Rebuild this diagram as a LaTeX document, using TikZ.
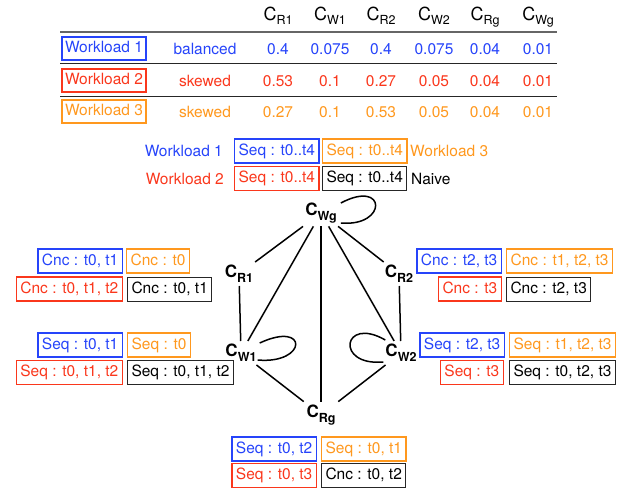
\documentclass[tikz,border=0pt]{standalone}
\usepackage{fontspec}
\setmainfont{TeX Gyre Heros}
\usetikzlibrary{calc}
\definecolor{wlblue}{RGB}{38,68,250}
\definecolor{wlred}{RGB}{250,55,28}
\definecolor{wlorange}{RGB}{255,152,30}
\newcommand{\hC}[1]{C\raisebox{-4pt}{\fontsize{12.5}{12}\selectfont #1}}
\newcommand{\gC}[1]{\textbf{C}\raisebox{-5pt}{\fontsize{12.5}{12}\selectfont\bfseries #1}}
\tikzset{
	cell/.style={inner sep=0pt, font=\fontsize{15.5}{18}\selectfont, text height=11pt, text depth=0pt},
	box/.style={draw, line width=1.3pt, minimum height=24pt, inner xsep=4pt, inner ysep=0pt, font=\fontsize{15.5}{18}\selectfont, text height=11pt, text depth=3pt},
	bluebox/.style={box, draw=wlblue, text=wlblue},
	redbox/.style={box, draw=wlred, text=wlred},
	orangebox/.style={box, draw=wlorange, text=wlorange},
	blackbox/.style={box, draw=black!85, line width=1pt, text=black},
	wlbox/.style={draw, line width=2.3pt, minimum width=84pt, minimum height=23pt, inner sep=0pt, font=\fontsize{15.5}{18}\selectfont, text height=11pt, text depth=3pt},
	gnode/.style={inner sep=3pt, font=\fontsize{17}{18}\selectfont\bfseries},
	edge/.style={line width=1.5pt, black}
}

\begin{document}
\begin{tikzpicture}[x=1pt, y=-1pt]
			%%%%% START %%%%%
			\useasboundingbox (0,0) rectangle (619,490);
			
			% table header
			\node[font=\fontsize{18}{18}\selectfont, inner sep=0pt, anchor=base] (hr1) at (278,20) {\hC{R1}};
			\node[font=\fontsize{18}{18}\selectfont, inner sep=0pt, anchor=base] (hw1) at (330,20) {\hC{W1}};
			\node[font=\fontsize{18}{18}\selectfont, inner sep=0pt, anchor=base] (hr2) at (381,20) {\hC{R2}};
			\node[font=\fontsize{18}{18}\selectfont, inner sep=0pt, anchor=base] (hw2) at (434,20) {\hC{W2}};
			\node[font=\fontsize{18}{18}\selectfont, inner sep=0pt, anchor=base] (hrg) at (485,20) {\hC{Rg}};
			\node[font=\fontsize{18}{18}\selectfont, inner sep=0pt, anchor=base] (hwg) at (538,20) {\hC{Wg}};
			
			\draw[line width=1.6pt, black!60] (60,32) -- (557,32);
			\draw[line width=1pt, black!85] (60,63.5) -- (557,63.5);
			\draw[line width=1pt, black!85] (60,96.5) -- (557,96.5);
			
			% workload 1
			\node[wlbox, draw=wlblue, text=wlblue] (wl1) at (104,48.5) {Workload 1};
			\node[cell, wlblue] (wl1type) at (205,48.5) {balanced};
			\node[cell, wlblue] (wl1r1) at (278,48.5) {0.4};
			\node[cell, wlblue] (wl1w1) at (330,48.5) {0.075};
			\node[cell, wlblue] (wl1r2) at (381,48.5) {0.4};
			\node[cell, wlblue] (wl1w2) at (434,48.5) {0.075};
			\node[cell, wlblue] (wl1rg) at (485,48.5) {0.04};
			\node[cell, wlblue] (wl1wg) at (538,48.5) {0.01};
			
			% workload 2
			\node[wlbox, draw=wlred, text=wlred] (wl2) at (104,80.5) {Workload 2};
			\node[cell, wlred] (wl2type) at (205,80.5) {skewed};
			\node[cell, wlred] (wl2r1) at (278,80.5) {0.53};
			\node[cell, wlred] (wl2w1) at (330,80.5) {0.1};
			\node[cell, wlred] (wl2r2) at (381,80.5) {0.27};
			\node[cell, wlred] (wl2w2) at (434,80.5) {0.05};
			\node[cell, wlred] (wl2rg) at (485,80.5) {0.04};
			\node[cell, wlred] (wl2wg) at (538,80.5) {0.01};
			
			% workload 3
			\node[wlbox, draw=wlorange, text=wlorange] (wl3) at (104,111.5) {Workload 3};
			\node[cell, wlorange] (wl3type) at (205,111.5) {skewed};
			\node[cell, wlorange] (wl3r1) at (278,111.5) {0.27};
			\node[cell, wlorange] (wl3w1) at (330,111.5) {0.1};
			\node[cell, wlorange] (wl3r2) at (381,111.5) {0.53};
			\node[cell, wlorange] (wl3w2) at (434,111.5) {0.05};
			\node[cell, wlorange] (wl3rg) at (485,111.5) {0.04};
			\node[cell, wlorange] (wl3wg) at (538,111.5) {0.01};
			
			% legend
			\node[cell, wlblue, anchor=east] (lg1) at (223,151) {Workload 1};
			\node[bluebox, anchor=west] (lgb) at (234,151) {Seq : t0..t4};
			\node[orangebox, anchor=west] (lgo) at (322,151) {Seq : t0..t4};
			\node[cell, wlorange, anchor=west] (lg3) at (410,151) {Workload 3};
			\node[cell, wlred, anchor=east] (lg2) at (224,178.5) {Workload 2};
			\node[redbox, anchor=west] (lgr) at (234,178.5) {Seq : t0..t4};
			\node[blackbox, anchor=west] (lgk) at (322,178.5) {Seq : t0..t4};
			\node[cell, anchor=west] (lgn) at (411,178.5) {Naive};
			
			% graph
			\node[gnode] (cwg) at (321,213) {\gC{Wg}};
			\node[gnode] (cr1) at (239,274) {\gC{R1}};
			\node[gnode] (cr2) at (399,274) {\gC{R2}};
			\node[gnode] (cw1) at (241,353) {\gC{W1}};
			\node[gnode] (cw2) at (401,353) {\gC{W2}};
			\node[gnode] (crg) at (321,415) {\gC{Rg}};
			
			\draw[edge] (cwg) -- (cr1);
			\draw[edge] (cwg) -- (cw1);
			\draw[edge] (cwg) -- (crg);
			\draw[edge] (cwg) -- (cw2);
			\draw[edge] (cwg) -- (cr2);
			\draw[edge] (cr1) -- (cw1);
			\draw[edge] (cr2) -- (cw2);
			\draw[edge] (cw1) -- (crg);
			\draw[edge] (cw2) -- (crg);
			\draw[edge] ($(cwg.east)+(1,-10)$) .. controls +(28:52pt) and +(-5:47pt) .. ($(cwg.east)+(1,10)$);
			\draw[edge] ($(cw1.east)+(0,-10)$) .. controls +(25:54pt) and +(-5:50pt) .. ($(cw1.east)+(-2,7)$);
			\draw[edge] ($(cw2.west)+(3,-13)$) .. controls +(150:49pt) and +(185:49pt) .. ($(cw2.west)+(1,9)$);
			
			% C_R1 labels
			\node[bluebox, anchor=east] (r1b) at (123,261) {Cnc : t0, t1};
			\node[orangebox, anchor=west] (r1o) at (126,261) {Cnc : t0};
			\node[redbox, anchor=east] (r1r) at (123,289) {Cnc : t0, t1, t2};
			\node[blackbox, anchor=west] (r1k) at (127,289) {Cnc : t0, t1};
			
			% C_W1 labels
			\node[bluebox, anchor=east] (w1b) at (123,345) {Seq : t0, t1};
			\node[orangebox, anchor=west] (w1o) at (127,345) {Seq : t0};
			\node[redbox, anchor=east] (w1r) at (123,372.5) {Seq : t0, t1, t2};
			\node[blackbox, anchor=west] (w1k) at (127,372.5) {Seq : t0, t1, t2};
			
			% C_R2 labels
			\node[bluebox, anchor=east] (r2b) at (502,261) {Cnc : t2, t3};
			\node[orangebox, anchor=west] (r2o) at (506,261) {Cnc : t1, t2, t3};
			\node[redbox, anchor=east] (r2r) at (502,289) {Cnc : t3};
			\node[blackbox, anchor=west] (r2k) at (506,289) {Cnc : t2, t3};
			
			% C_W2 labels
			\node[bluebox, anchor=east] (w2b) at (505,345) {Seq : t2, t3};
			\node[orangebox, anchor=west] (w2o) at (509,345) {Seq : t1, t2, t3};
			\node[redbox, anchor=east] (w2r) at (504,372.5) {Seq : t3};
			\node[blackbox, anchor=west] (w2k) at (509,372.5) {Seq : t0, t2, t3};
			
			% C_Rg labels
			\node[bluebox, anchor=east] (rgb) at (317,449) {Seq : t0, t2};
			\node[orangebox, anchor=west] (rgo) at (321,449) {Seq : t0, t1};
			\node[redbox, anchor=east] (rgr) at (317,475.5) {Seq : t0, t3};
			\node[blackbox, anchor=west] (rgk) at (321,475.5) {Cnc : t0, t2};
			
			%%%%% END %%%%%
\end{tikzpicture}
\end{document}
